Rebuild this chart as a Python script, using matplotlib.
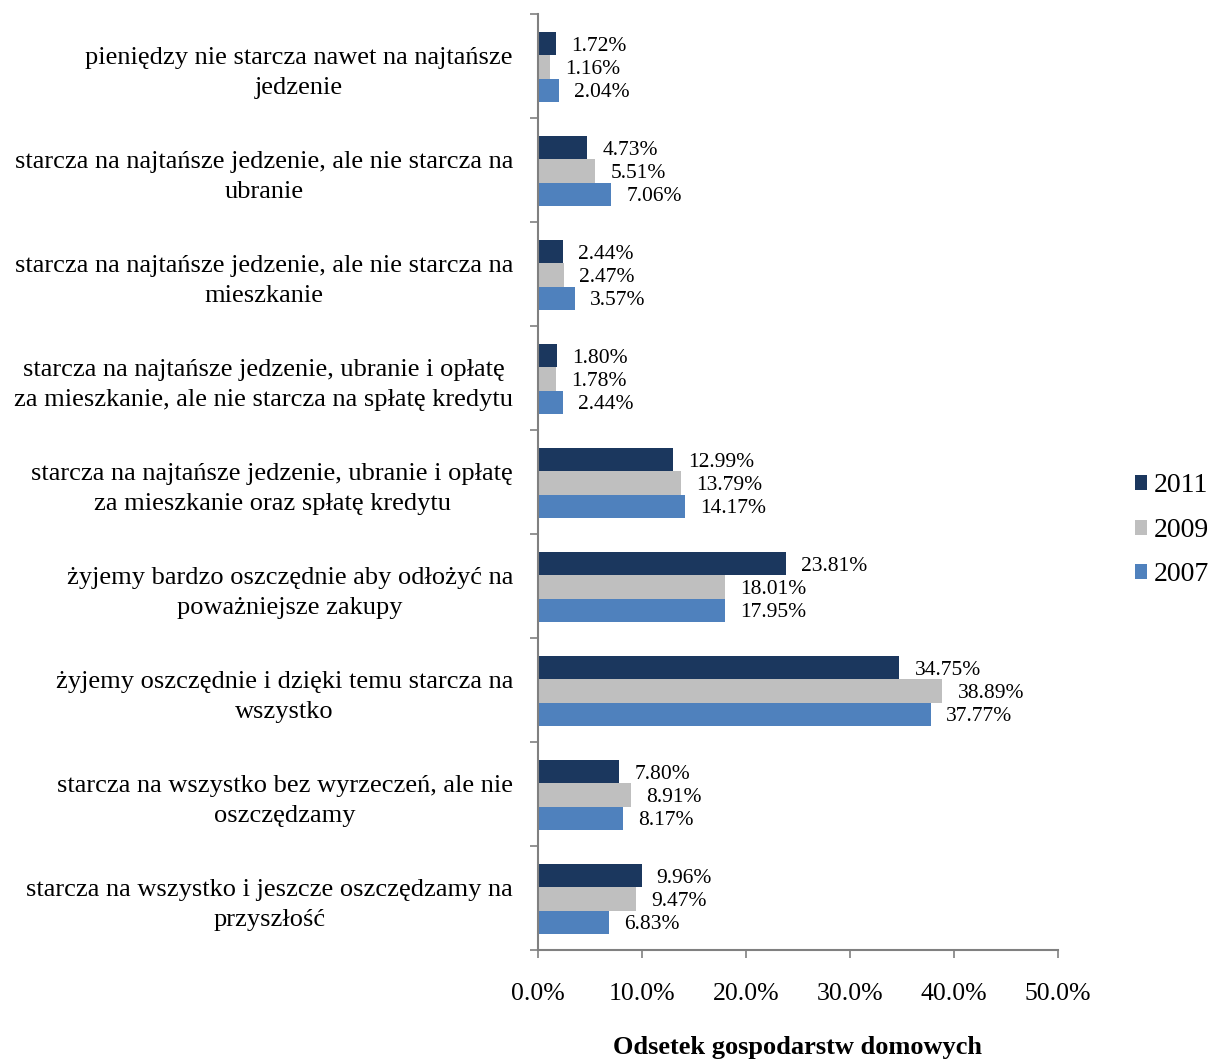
import numpy as np
import matplotlib.pyplot as plt

plt.rcParams['font.family'] = ['Liberation Serif', 'DejaVu Serif']

# ------------------------------------- Data ---------------------------------#
categories = [
    "pieniędzy nie starcza nawet na najtańsze\njedzenie",
    "starcza na najtańsze jedzenie, ale nie starcza na\nubranie",
    "starcza na najtańsze jedzenie, ale nie starcza na\nmieszkanie",
    "starcza na najtańsze jedzenie, ubranie i opłatę\nza mieszkanie, ale nie starcza na spłatę kredytu",
    "starcza na najtańsze jedzenie, ubranie i opłatę\nza mieszkanie oraz spłatę kredytu",
    "żyjemy bardzo oszczędnie aby odłożyć na\npoważniejsze zakupy",
    "żyjemy oszczędnie i dzięki temu starcza na\nwszystko",
    "starcza na wszystko bez wyrzeczeń, ale nie\noszczędzamy",
    "starcza na wszystko i jeszcze oszczędzamy na\nprzyszłość",
]
years = ["2011", "2009", "2007"]
v2011 = [1.72, 4.73, 2.44, 1.80, 12.99, 23.81, 34.75, 7.80, 9.96]
v2009 = [1.16, 5.51, 2.47, 1.78, 13.79, 18.01, 38.89, 8.91, 9.47]
v2007 = [2.04, 7.06, 3.57, 2.44, 14.17, 17.95, 37.77, 8.17, 6.83]
colors = ["#1B375E", "#BFBFBF", "#4F81BD"]

# ------------------------------------- Plot ---------------------------------#
fig = plt.figure(figsize=(12.10, 10.63), dpi=100)
ax = fig.add_axes([0.4446, 0.1063, 0.4298, 0.8805])

n = len(categories)
ypos = np.arange(n)[::-1]  # first category at the top
h = 0.225
series = [v2011, v2009, v2007]
bars = []
for k, (vals, col, yr) in enumerate(zip(series, colors, years)):
    yk = ypos + h * (1 - k) - 0.01
    b = ax.barh(yk, vals, height=h, color=col, label=yr, zorder=2)
    bars.append(b)
    for y, v in zip(yk, vals):
        ax.text(v + 1.45, y, "{:.2f}%".format(v), va='center_baseline',
                ha='left', fontsize=15.5)

ax.set_xlim(0, 50)
ax.set_ylim(-0.5, n - 0.5)

# category labels centred per group, ticks at group boundaries
ax.set_yticks(np.arange(-0.5, n, 1.0))
ax.set_yticklabels([])
ax.set_yticks(ypos, minor=True)
ax.set_yticklabels(categories, minor=True, fontsize=19, ha='right',
                   multialignment='center', linespacing=1.5)
for lab in ax.get_yticklabels(minor=True):
    lab.set_y(lab.get_position()[1] + 0.02)
ax.tick_params(axis='y', which='minor', length=0, pad=18)
ax.tick_params(axis='y', which='major', length=6, width=1.2, color='#808080',
               direction='out')

ax.set_xticks(np.arange(0, 51, 10))
ax.set_xticklabels(["{:.1f}%".format(x) for x in np.arange(0, 51, 10)])
ax.tick_params(axis='x', length=6, width=1.2, color='#808080', pad=18,
               labelsize=18.5)

for side in ['top', 'right']:
    ax.spines[side].set_visible(False)
for side in ['left', 'bottom']:
    ax.spines[side].set_color('#808080')
    ax.spines[side].set_linewidth(1.5)

ax.set_xlabel("Odsetek gospodarstw domowych", fontsize=19,
              fontweight='bold', labelpad=22)

fig.legend(handles=bars, labels=years, loc='center left',
           bbox_to_anchor=(0.917, 0.501), frameon=False, fontsize=20,
           handlelength=0.45, handleheight=0.45, handletextpad=0.25,
           labelspacing=0.7)

fig.savefig("out.png", dpi=100)
